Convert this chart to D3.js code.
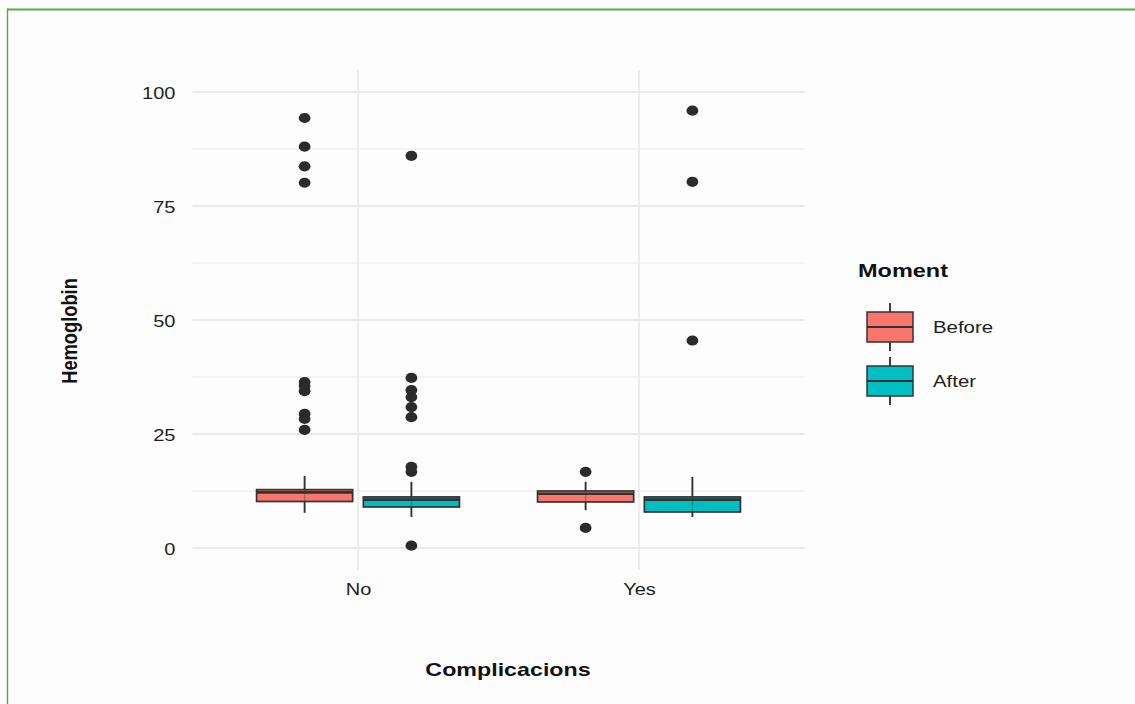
<!DOCTYPE html>
<html>
<head>
<meta charset="utf-8">
<script src="https://cdn.jsdelivr.net/npm/d3@7"></script>
<style>
  html, body { margin: 0; padding: 0; background: #fdfdfd; }
  svg { display: block; }
  text { font-family: "Liberation Sans", Arial, sans-serif; }
</style>
</head>
<body>
<svg id="chart" width="1135" height="704"></svg>
<script>
// ---- data ----
const categories = ["No", "Yes"];
const moments = ["Before", "After"];
const momentColors = ["#F8766D", "#00BFC4"];
const yTicks = [0, 25, 50, 75, 100];
const yMinorTicks = [12.5, 37.5, 62.5, 87.5];

// boxplot stats per category, one array per moment: [No, Yes]
const beforeLower  = [7.7, 8.3];
const beforeQ1     = [10.2, 10.1];
const beforeMedian = [12.2, 11.9];
const beforeQ3     = [12.8, 12.5];
const beforeUpper  = [15.8, 14.5];
const afterLower   = [6.8, 6.8];
const afterQ1      = [9.0, 7.9];
const afterMedian  = [10.6, 10.6];
const afterQ3      = [11.2, 11.2];
const afterUpper   = [14.5, 15.6];

const outliersNoBefore  = [94.3, 88.0, 83.7, 80.1, 36.4, 35.5, 34.4, 29.4, 28.3, 25.9];
const outliersNoAfter   = [86.0, 37.3, 34.6, 33.1, 30.9, 28.7, 17.8, 16.7, 0.5];
const outliersYesBefore = [16.7, 4.4];
const outliersYesAfter  = [95.9, 80.3, 45.5];

const xTitle = "Complicacions";
const yTitle = "Hemoglobin";
const legendTitle = "Moment";

// the reference picture is stretched horizontally
const SX = 1.25;

// ---- build table ----
const boxes = [];
categories.forEach((c, i) => {
  boxes.push({cat: c, moment: "Before", lower: beforeLower[i], q1: beforeQ1[i], median: beforeMedian[i], q3: beforeQ3[i], upper: beforeUpper[i],
    outliers: i === 0 ? outliersNoBefore : outliersYesBefore});
  boxes.push({cat: c, moment: "After", lower: afterLower[i], q1: afterQ1[i], median: afterMedian[i], q3: afterQ3[i], upper: afterUpper[i],
    outliers: i === 0 ? outliersNoAfter : outliersYesAfter});
});

const svg = d3.select("#chart");

// frame border (green, top & left)
svg.append("line").attr("x1", 7).attr("x2", 1135).attr("y1", 9.5).attr("y2", 9.5)
  .attr("stroke", "#55a94a").attr("stroke-width", 2.2);
svg.append("line").attr("x1", 7.5).attr("x2", 7.5).attr("y1", 8.5).attr("y2", 704)
  .attr("stroke", "#55a94a").attr("stroke-width", 1.4);

const panelLeft = 189.4, panelRight = 807.6;
const band = (panelRight - panelLeft) / 2.2;
const x = d3.scalePoint().domain(categories).range([panelLeft + 0.6 * band, panelRight - 0.6 * band]);
const xOff = d3.scalePoint().domain(moments).range([-0.19 * band, 0.19 * band]);
const boxW = 0.342 * band;
const color = d3.scaleOrdinal().domain(moments).range(momentColors);

const y = d3.scaleLinear().domain([0, 100]).range([548, 92]);
const yTop = y(104.8), yBot = y(-4.8);

// grid
const g = svg.append("g");
g.selectAll("line.minor").data(yMinorTicks).join("line")
  .attr("x1", panelLeft + 3).attr("x2", panelRight - 3)
  .attr("y1", d => y(d)).attr("y2", d => y(d))
  .attr("stroke", "#efefef").attr("stroke-width", 1.4);
g.selectAll("line.major").data(yTicks).join("line")
  .attr("x1", panelLeft + 3).attr("x2", panelRight - 3)
  .attr("y1", d => y(d)).attr("y2", d => y(d))
  .attr("stroke", "#e9e9e9").attr("stroke-width", 2);
g.selectAll("line.vx").data(categories).join("line")
  .attr("x1", d => x(d)).attr("x2", d => x(d))
  .attr("y1", yTop).attr("y2", yBot)
  .attr("stroke", "#e9e9e9").attr("stroke-width", 1.6);

const fontStack = '"Liberation Sans", Arial, sans-serif';

// y axis labels via d3 axis
const yAxis = svg.append("g").attr("transform", `translate(${panelLeft - 6},0)`)
  .call(d3.axisLeft(y).tickValues(yTicks).tickSize(0).tickPadding(6.4));
yAxis.select(".domain").remove();
yAxis.selectAll("text").attr("font-size", 16).attr("fill", "#1e1e1e").attr("dy", "0.38em")
  .attr("transform", `scale(${SX},1)`).style("font-family", fontStack);

// x axis labels
const xAxis = svg.append("g").attr("transform", `translate(0,${yBot + 8})`)
  .call(d3.axisBottom(x).tickSize(0).tickPadding(6));
xAxis.selectAll("g.tick text").attr("font-size", 16).attr("fill", "#1e1e1e")
  .attr("transform", `scale(${SX},1)`).style("font-family", fontStack);
xAxis.select(".domain").remove();

// boxes
const bg = svg.append("g");
const bx = d => x(d.cat) + xOff(d.moment);
bg.selectAll("line.whisk").data(boxes).join("line")
  .attr("x1", bx).attr("x2", bx)
  .attr("y1", d => y(d.upper)).attr("y2", d => y(d.lower))
  .attr("stroke", "#333").attr("stroke-width", 1.9);
bg.selectAll("rect").data(boxes).join("rect")
  .attr("x", d => bx(d) - boxW / 2).attr("width", boxW)
  .attr("y", d => y(d.q3)).attr("height", d => y(d.q1) - y(d.q3))
  .attr("fill", d => color(d.moment)).attr("stroke", "#333").attr("stroke-width", 1.7);
bg.selectAll("line.med").data(boxes).join("line")
  .attr("x1", d => bx(d) - boxW / 2).attr("x2", d => bx(d) + boxW / 2)
  .attr("y1", d => y(d.median)).attr("y2", d => y(d.median))
  .attr("stroke", "#333").attr("stroke-width", 2.6);
bg.selectAll("line.w2").data(boxes).join("line")
  .attr("x1", bx).attr("x2", bx)
  .attr("y1", d => y(d.q3)).attr("y2", d => y(d.q1))
  .attr("stroke", "#333").attr("stroke-width", 1.4).attr("opacity", 0.35);

// outliers (stretched dots)
const pts = boxes.flatMap(d => d.outliers.map(v => ({cat: d.cat, moment: d.moment, v})));
bg.selectAll("ellipse").data(pts).join("ellipse")
  .attr("cx", d => x(d.cat) + xOff(d.moment)).attr("cy", d => y(d.v))
  .attr("rx", 5.9).attr("ry", 5.1).attr("fill", "#2b2b2b");

// axis titles
svg.append("text").attr("transform", `translate(508,676) scale(${SX},1)`).attr("text-anchor", "middle")
  .attr("font-size", 18.6).attr("font-weight", "bold").attr("fill", "#111").text(xTitle);
svg.append("text").attr("transform", `translate(77,331) rotate(-90) scale(1,${SX})`).attr("text-anchor", "middle")
  .attr("font-size", 18.3).attr("font-weight", "bold").attr("fill", "#111").text(yTitle);

// legend
const lg = svg.append("g");
lg.append("text").attr("transform", `translate(858,277) scale(${SX},1)`).attr("font-size", 18.8).attr("font-weight", "bold")
  .attr("fill", "#111").text(legendTitle);
const ly = d3.scalePoint().domain(moments).range([327, 381]);
const key = lg.selectAll("g.key").data(moments).join("g").attr("class", "key")
  .attr("transform", d => `translate(890,${ly(d)})`);
key.append("line").attr("x1", 0).attr("x2", 0).attr("y1", -24).attr("y2", 24)
  .attr("stroke", "#333").attr("stroke-width", 1.9);
key.append("rect").attr("x", -23).attr("y", -15).attr("width", 46).attr("height", 30)
  .attr("fill", d => color(d)).attr("stroke", "#333").attr("stroke-width", 1.5);
key.append("line").attr("x1", -23).attr("x2", 23).attr("y1", 0).attr("y2", 0)
  .attr("stroke", "#333").attr("stroke-width", 1.8);
key.append("text").attr("transform", `translate(43,0) scale(${SX},1)`).attr("dy", "0.36em").attr("font-size", 16.3)
  .attr("fill", "#1e1e1e").text(d => d);
</script>
</body>
</html>
